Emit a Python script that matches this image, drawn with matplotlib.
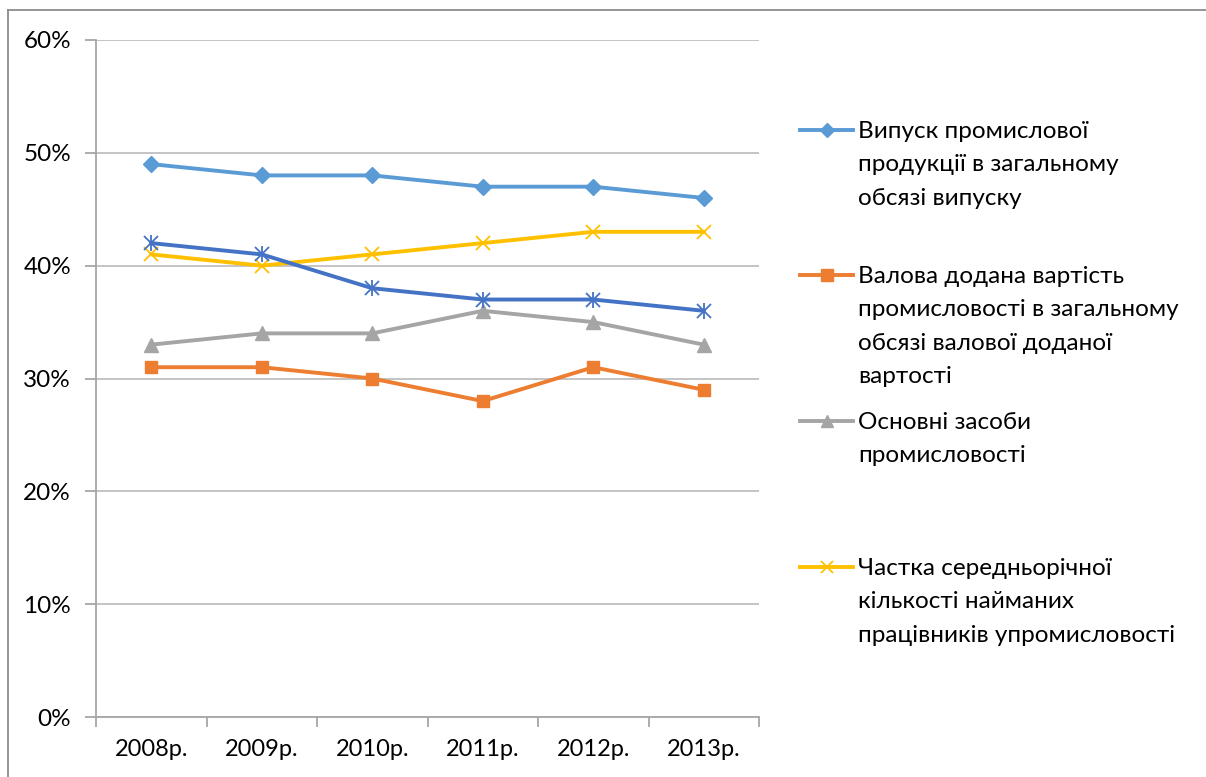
import matplotlib
matplotlib.use("Agg")
import matplotlib.pyplot as plt
from matplotlib.lines import Line2D
from matplotlib.ticker import FuncFormatter, MultipleLocator

years = ["2008р.", "2009р.", "2010р.", "2011р.", "2012р.", "2013р."]
output_share = [49, 48, 48, 47, 47, 46]
gva_share = [31, 31, 30, 28, 31, 29]
fixed_assets = [33, 34, 34, 36, 35, 33]
employees_share = [41, 40, 41, 42, 43, 43]
unlabeled_series = [42, 41, 38, 37, 37, 36]

labels = [
    ["Випуск промислової", "продукції в загальному", "обсязі випуску"],
    ["Валова додана вартість", "промисловості в загальному", "обсязі валової доданої", "вартості"],
    ["Основні засоби", "промисловості"],
    ["Частка середньорічної", "кількості найманих", "працівників упромисловості"],
]

plt.rcParams['font.family'] = ['Lato', 'DejaVu Sans']

W, H = 1206, 777
fig = plt.figure(figsize=(W / 100, H / 100), dpi=100)
ax = fig.add_axes([96 / W, 1 - 717 / H, (759 - 96) / W, (717 - 40) / H])

c_lb, c_db, c_or, c_gr, c_ye = "#5B9BD5", "#4472C4", "#ED7D31", "#A5A5A5", "#FFC000"
lw = 2.8
x = list(range(len(years)))

ax.plot(x, output_share, color=c_lb, lw=lw, marker='D', ms=8.5, zorder=5)
ax.plot(x, unlabeled_series, color=c_db, lw=lw, marker='x', ms=10, mew=1.3, zorder=5)
ax.plot(x, unlabeled_series, color=c_db, ls='none', marker='|', ms=12, mew=1.3, zorder=5)
ax.plot(x, employees_share, color=c_ye, lw=lw, marker='x', ms=10, mew=1.3, zorder=4)
ax.plot(x, fixed_assets, color=c_gr, lw=lw, marker='^', ms=9.5, zorder=4)
ax.plot(x, gva_share, color=c_or, lw=lw, marker='s', ms=9, zorder=4)

ax.set_xlim(-0.5, len(years) - 0.5)
ax.set_ylim(0, 60)
ax.yaxis.set_major_locator(MultipleLocator(10))
ax.yaxis.set_major_formatter(FuncFormatter(lambda v, p: f"{int(v)}%"))
ax.set_xticks(x)
ax.set_xticklabels(years)
ax.set_xticks([i - 0.5 for i in range(len(years) + 1)], minor=True)
ax.tick_params(axis='x', which='major', length=0, pad=16, labelsize=17)
ax.tick_params(axis='x', which='minor', length=7, width=1.3, color="#A6A6A6", direction='out')
ax.tick_params(axis='y', length=8, width=1.3, color="#A6A6A6", pad=10, labelsize=17.5)
ax.grid(axis='y', color="#BFBFBF", lw=1.3)
ax.set_axisbelow(True)
for s in ['top', 'right']:
    ax.spines[s].set_visible(False)
for s in ['left', 'bottom']:
    ax.spines[s].set_color("#A6A6A6")
    ax.spines[s].set_linewidth(1.3)

# legend (manual, Excel style with handle aligned to first line)
handles = [
    dict(color=c_lb, marker='D', ms=7),
    dict(color=c_or, marker='s', ms=8),
    dict(color=c_gr, marker='^', ms=8),
    dict(color=c_ye, marker='x', ms=9, mew=1.3),
]
first_y = [130, 275, 421, 567]
line_step = 33.3
for h, lines, yy in zip(handles, labels, first_y):
    yf = 1 - yy / H
    fig.add_artist(Line2D([800 / W, 853 / W], [yf, yf], lw=lw, color=h['color'],
                          transform=fig.transFigure))
    fig.add_artist(Line2D([826.5 / W], [yf], ls='none', marker=h['marker'], ms=h['ms'],
                          mew=h.get('mew', 1), color=h['color'], transform=fig.transFigure))
    for k, ln in enumerate(lines):
        base = yy + 8 + k * line_step
        fig.text(858 / W, 1 - base / H, ln, fontsize=17.5, va='baseline', ha='left',
                 color="#000000")

# outer frame (top and left edges visible)
fig.add_artist(Line2D([8 / W, 1], [1 - 10 / H, 1 - 10 / H], lw=1.3, color="#8C8C8C",
                      transform=fig.transFigure))
fig.add_artist(Line2D([8 / W, 8 / W], [1 - 10 / H, 0], lw=1.3, color="#8C8C8C",
                      transform=fig.transFigure))

fig.savefig("out.png", dpi=100)
